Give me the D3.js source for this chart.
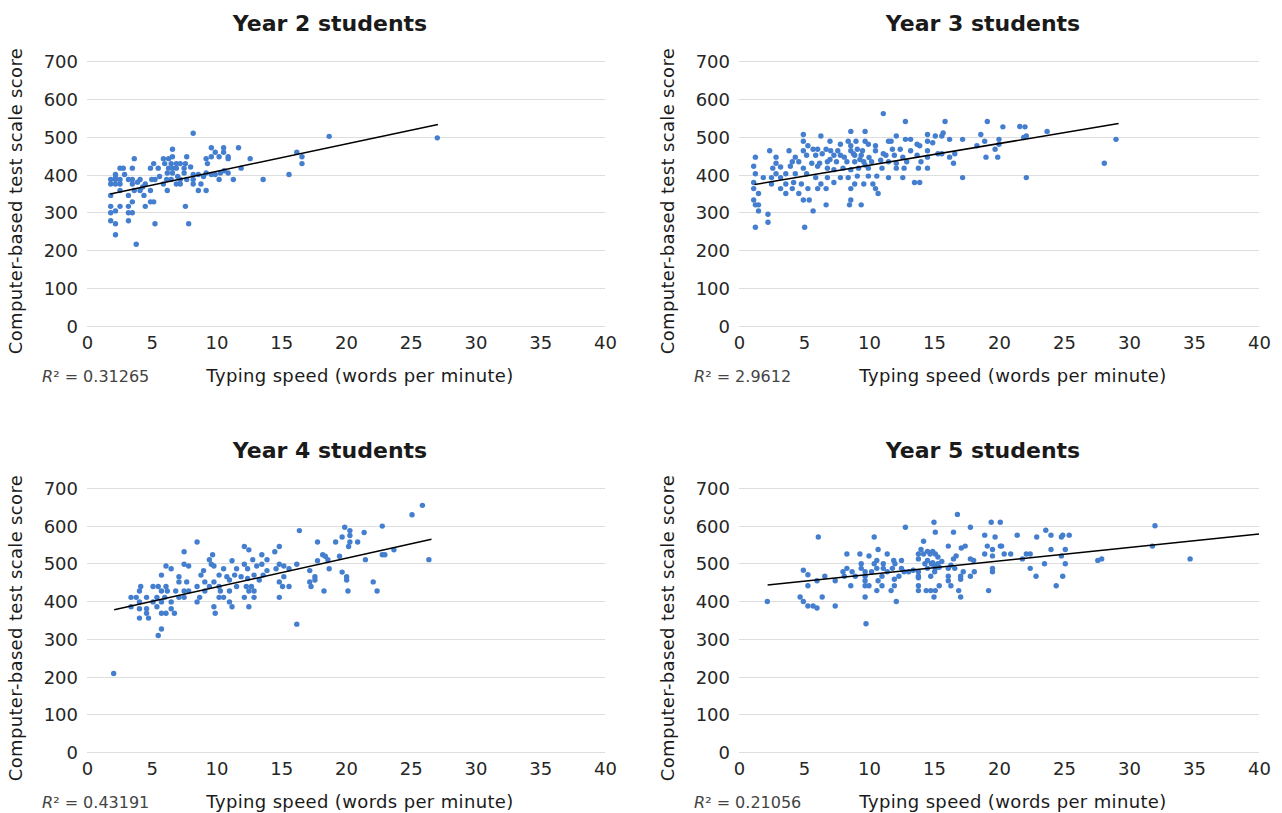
<!DOCTYPE html>
<html lang="en">
<meta charset="utf-8">
<head>
  <style>
    body { margin: 0; background: #fff; }
    text { font-family: "DejaVu Sans", "Noto Sans", sans-serif; fill: #1a1a1a; }
    .grid line { stroke: #dedede; stroke-width: 1; shape-rendering: crispEdges; }
    .grid path, .xaxis path, .xaxis line { display: none; }
    .tick text { font-size: 18px; fill: #262626; }
    .title { font-size: 22px; font-weight: 700; }
    .label { font-size: 18px; letter-spacing: 0.35px; }
    .r2 { font-size: 16px; fill: #444; }
  </style>
  <title></title>
</head>
<body>
<script src="https://d3js.org/d3.v7.min.js"></script>
<script>

  const titles = ["Year 2 students", "Year 3 students", "Year 4 students", "Year 5 students"];
  const r2Values = ["0.31265", "2.9612", "0.43191", "0.21056"];
  const xTicks = [0, 5, 10, 15, 20, 25, 30, 35, 40];
  const yTicks = [0, 100, 200, 300, 400, 500, 600, 700];

  // trendline: [intercept, slope, x start, x end]
  const trendLines = [
    [335.8, 7.24, 1.8, 27.1],
    [366.7, 5.76, 1.2, 29.2],
    [361.3, 7.62, 2.1, 26.6],
    [434.7, 3.59, 2.2, 40]
  ];

  const year2Points = [
    [8.2,509],[18.7,501],[27.05,497],[9.6,471],[10.55,471],[11.7,471],[6.6,467],[9.9,459],[10.55,459],[16.2,459],
    [10.2,447],[10.9,447],[10.9,442],[12.6,442],[16.6,447],[16.6,429],[3.65,442],[5.9,442],[6.3,442],[6.6,447],
    [7.7,447],[9.2,442],[9.3,429],[9.6,447],[5.15,429],[6.0,429],[6.5,429],[6.9,429],[7.2,429],[7.6,429],
    [5.5,417],[4.9,417],[3.5,417],[2.55,417],[2.8,417],[6.3,417],[6.6,417],[6.9,417],[7.5,417],[11.9,417],
    [2.2,400],[6.2,404],[6.6,404],[7.5,404],[8.2,400],[8.6,400],[9.2,404],[9.6,400],[9.9,400],[10.3,404],
    [10.9,404],[15.6,400],[1.83,387],[2.2,387],[2.55,387],[3.2,387],[3.5,387],[4.1,387],[5.0,387],[5.25,387],
    [6.15,387],[6.5,387],[7.2,387],[7.7,387],[8.2,387],[10.2,387],[11.3,387],[13.6,387],[1.83,375],[2.2,375],
    [2.55,375],[3.5,375],[4.5,375],[5.9,375],[6.9,375],[7.2,375],[8.2,375],[8.8,375],[2.55,358],[3.65,358],
    [4.1,358],[4.9,358],[6.2,358],[8.6,358],[9.2,358],[1.83,345],[3.2,345],[4.4,345],[3.5,328],[4.9,328],
    [5.15,328],[1.83,316],[2.55,316],[3.2,316],[4.5,316],[7.6,316],[1.83,299],[2.2,304],[3.2,299],[3.5,299],
    [1.83,278],[3.2,278],[2.2,270],[5.25,270],[7.85,270],[2.2,241],[3.8,216],[2.2,392],[4.3,367],[5.6,395],
    [8.0,420],[9.0,395],[2.9,400],[3.9,380],[7.0,395],[10.6,410]
  ];

  const year3Points = [
    [11.1,561],[12.8,540],[15.85,540],[19.1,540],[20.3,526],[22.0,526],[23.7,514],[29.0,493],[28.1,430],[22.1,392],
    [22.1,502],[4.95,506],[6.3,502],[8.6,514],[9.7,514],[12.1,502],[14.5,506],[15.1,502],[15.6,502],[18.6,506],
    [17.2,493],[16.2,493],[20.0,493],[18.9,488],[20.0,480],[18.3,476],[19.7,467],[19.0,446],[19.9,446],[4.95,488],
    [7.0,488],[8.4,488],[9.0,488],[9.7,488],[11.5,488],[11.7,488],[12.8,493],[13.2,493],[14.5,488],[14.9,484],
    [13.7,480],[13.9,476],[5.3,476],[7.8,480],[8.6,476],[9.95,480],[10.5,476],[2.36,463],[3.85,463],[4.95,463],
    [5.7,467],[6.05,467],[6.7,467],[7.05,463],[7.6,463],[8.6,463],[9.1,467],[9.5,463],[10.5,463],[11.1,455],
    [11.8,467],[12.4,467],[13.2,463],[14.5,463],[15.3,455],[15.6,455],[16.6,455],[16.2,446],[16.5,430],[1.26,446],
    [2.85,446],[4.33,446],[5.2,451],[5.9,451],[7.3,451],[7.8,451],[8.1,446],[8.9,451],[9.4,451],[11.3,451],
    [11.95,451],[12.6,446],[13.7,451],[14.5,446],[2.85,430],[4.1,434],[4.6,434],[5.6,430],[6.2,430],[6.8,434],
    [7.5,434],[8.3,434],[8.9,434],[9.6,434],[10.2,434],[11.5,434],[12.1,430],[12.9,434],[14.0,434],[1.13,422],
    [2.6,417],[3.95,422],[4.95,417],[6.05,422],[6.8,417],[7.3,413],[8.0,417],[8.6,413],[9.2,417],[9.95,417],
    [11.0,417],[12.1,417],[12.7,417],[13.8,417],[14.5,417],[1.26,402],[2.85,402],[3.6,402],[4.33,402],[5.2,402],
    [5.9,392],[6.8,392],[7.8,392],[8.4,392],[9.1,396],[9.95,396],[10.6,396],[11.5,392],[12.6,392],[17.2,392],
    [1.87,392],[2.5,392],[3.2,392],[1.13,379],[2.5,375],[3.6,375],[4.2,379],[4.8,375],[6.3,375],[7.3,379],
    [8.9,375],[9.6,375],[10.3,375],[13.5,379],[13.9,379],[1.13,363],[3.2,363],[4.1,363],[5.3,363],[6.05,363],
    [6.7,363],[8.6,363],[10.5,363],[1.5,350],[3.6,350],[4.6,350],[10.7,350],[1.13,333],[4.95,333],[5.4,333],
    [8.6,333],[1.26,320],[1.5,320],[6.7,320],[8.5,320],[9.4,320],[1.5,304],[5.7,304],[2.23,295],[2.23,274],
    [1.26,261],[5.05,261],[9.3,440],[8.8,455],[10.0,445],[7.0,440],[6.4,455],[9.7,425],[10.9,438],[3.2,420],
    [21.6,527],[21.9,498],[15.7,510]
  ];

  const year4Points = [
    [2.06,208],[25.9,654],[25.1,629],[22.8,599],[19.9,596],[20.3,587],[20.3,574],[16.4,587],[21.4,582],[8.5,557],
    [17.8,557],[19.2,557],[19.7,570],[20.3,557],[20.9,557],[20.2,545],[7.5,531],[12.15,545],[12.5,536],[14.5,531],
    [14.85,545],[9.7,523],[18.2,523],[18.4,519],[19.5,519],[22.8,523],[23.0,523],[23.7,536],[21.5,510],[26.4,510],
    [17.8,507],[18.6,510],[9.45,510],[11.2,507],[12.8,510],[13.5,523],[13.9,510],[6.1,493],[7.5,498],[7.85,493],
    [9.6,498],[9.8,493],[12.15,498],[13.1,493],[13.5,498],[14.85,498],[15.2,493],[16.2,498],[6.5,486],[9.0,481],
    [10.55,486],[11.55,486],[12.4,486],[13.9,481],[14.6,486],[15.6,486],[17.2,481],[18.7,486],[19.7,477],[5.75,469],
    [8.8,469],[10.2,469],[10.8,465],[11.4,469],[11.9,465],[12.9,469],[13.6,469],[15.2,465],[17.6,465],[20.05,465],
    [7.1,465],[7.1,451],[7.7,451],[9.1,451],[9.8,451],[11.0,456],[12.4,460],[13.3,456],[14.85,451],[17.2,451],
    [17.6,456],[20.05,456],[22.1,451],[4.15,439],[5.1,439],[5.5,439],[6.1,439],[8.5,439],[9.45,439],[10.2,439],
    [11.55,439],[12.3,439],[12.7,439],[15.1,439],[15.6,439],[17.3,439],[4.05,427],[5.75,427],[6.2,427],[6.85,427],
    [7.5,427],[7.85,427],[9.1,427],[10.3,427],[11.0,427],[12.5,427],[12.9,427],[18.3,427],[20.15,427],[22.4,427],
    [3.4,410],[3.8,410],[4.6,410],[5.4,410],[6.0,410],[7.1,410],[7.5,410],[8.7,410],[10.2,410],[10.55,410],
    [12.15,410],[12.9,410],[14.85,410],[4.05,398],[5.1,398],[5.75,398],[6.5,398],[8.5,398],[11.0,398],[3.4,385],
    [4.05,380],[4.6,380],[5.4,385],[6.5,380],[9.8,385],[11.2,385],[12.5,385],[4.6,368],[5.75,368],[6.1,368],
    [6.75,368],[9.9,368],[4.05,355],[4.75,355],[5.75,326],[5.5,309],[16.2,339]
  ];

  const year5Points = [
    [2.18,399],[9.77,340],[16.8,630],[15.0,609],[19.4,609],[20.1,609],[12.8,596],[17.8,596],[32.0,600],[15.1,583],
    [16.5,583],[23.6,588],[6.1,570],[10.4,570],[18.9,575],[19.7,570],[21.4,575],[22.9,570],[24.0,575],[24.8,570],
    [24.9,575],[25.4,575],[14.2,559],[16.1,546],[17.1,541],[17.4,546],[19.1,546],[20.1,546],[20.2,546],[19.5,537],
    [24.0,537],[25.1,537],[31.8,546],[10.7,537],[14.0,537],[14.5,532],[14.9,532],[8.3,525],[9.3,525],[11.4,525],
    [13.8,525],[14.2,525],[14.7,525],[15.1,525],[16.7,520],[18.9,525],[19.5,520],[20.4,525],[20.9,525],[22.1,525],
    [22.4,525],[24.8,520],[34.7,512],[27.6,508],[27.9,512],[10.0,520],[10.6,508],[11.9,508],[12.5,508],[13.8,512],
    [14.5,508],[15.3,517],[16.5,512],[17.8,512],[18.05,508],[21.8,512],[23.5,499],[25.1,499],[9.4,499],[10.4,499],
    [11.1,499],[12.0,499],[14.3,499],[14.8,499],[15.3,499],[16.3,495],[8.3,487],[9.4,487],[10.6,487],[11.1,487],
    [11.8,487],[12.5,487],[13.4,482],[14.5,487],[15.1,487],[16.1,487],[16.6,487],[19.5,487],[22.4,487],[4.95,482],
    [8.0,478],[8.7,478],[9.7,478],[10.2,478],[11.4,478],[12.7,478],[13.05,478],[13.8,478],[15.05,478],[17.25,478],
    [18.1,478],[19.5,478],[5.3,470],[6.6,466],[8.1,466],[8.95,466],[9.7,466],[11.0,466],[12.3,466],[13.8,466],
    [14.75,466],[16.1,466],[17.05,466],[17.8,466],[22.85,466],[24.9,466],[6.0,454],[7.4,454],[9.7,454],[10.7,454],
    [11.95,458],[13.8,462],[16.1,454],[17.05,458],[5.3,441],[8.6,441],[9.7,441],[10.0,441],[11.0,441],[11.95,441],
    [13.8,441],[15.4,441],[16.3,441],[24.4,441],[10.6,428],[11.7,428],[13.8,428],[14.4,428],[14.75,428],[15.1,428],
    [16.9,428],[19.2,428],[4.7,411],[6.4,411],[9.7,411],[15.0,411],[17.05,411],[4.95,399],[12.1,399],[5.3,387],
    [5.7,387],[6.0,382],[7.4,387],[15.0,495],[15.6,505],[14.9,502],[15.4,490]
  ];

  const panelPoints = [year2Points, year3Points, year4Points, year5Points];

  const cols = [[87, 605], [739, 1259]];
  const rows = [[61, 326], [488, 752]];

  const svg = d3.select("body").append("svg")
    .attr("width", 1282)
    .attr("height", 813);

  panelPoints.forEach(function (points, i) {
    const col = cols[i % 2], row = rows[Math.floor(i / 2)];
    const x = d3.scaleLinear().domain([0, 40]).range(col);
    const y = d3.scaleLinear().domain([0, 700]).range([row[1], row[0]]);
    const g = svg.append("g");

    g.append("g")
      .attr("class", "grid")
      .attr("transform", "translate(" + col[0] + ",0)")
      .call(d3.axisLeft(y).tickValues(yTicks).tickSize(-(col[1] - col[0])).tickPadding(9))
      .selectAll("text").attr("dy", "0.36em");

    g.append("g")
      .attr("class", "xaxis")
      .attr("transform", "translate(0," + row[1] + ")")
      .call(d3.axisBottom(x).tickValues(xTicks).tickSize(0).tickPadding(10));

    g.selectAll(".dot")
      .data(points)
      .enter().append("circle")
      .attr("cx", function (d) { return x(d[0]); })
      .attr("cy", function (d) { return y(d[1]); })
      .attr("r", 2.7)
      .style("fill", "#447ecf");

    const t = trendLines[i];
    g.append("line")
      .attr("x1", x(t[2])).attr("y1", y(t[0] + t[1] * t[2]))
      .attr("x2", x(t[3])).attr("y2", y(t[0] + t[1] * t[3]))
      .style("stroke", "#000")
      .style("stroke-width", 1.5);

    g.append("text")
      .attr("class", "title")
      .attr("x", (col[0] + col[1]) / 2 - 16)
      .attr("y", row[0] - 30)
      .attr("text-anchor", "middle")
      .text(titles[i]);

    g.append("text")
      .attr("class", "label")
      .attr("transform", "translate(" + (col[0] - 65) + "," + (row[0] + 140) + ") rotate(-90)")
      .attr("text-anchor", "middle")
      .text("Computer-based test scale score");

    g.append("text")
      .attr("class", "label")
      .attr("x", (col[0] + col[1]) / 2 + 14)
      .attr("y", row[1] + 56)
      .attr("text-anchor", "middle")
      .text("Typing speed (words per minute)");

    const r2 = g.append("text")
      .attr("class", "r2")
      .attr("x", col[0] - 45)
      .attr("y", row[1] + 56);
    r2.append("tspan").style("font-style", "italic").text("R");
    r2.append("tspan").text("\u00b2 = " + r2Values[i]);
  });

</script>
</body>
</html>
